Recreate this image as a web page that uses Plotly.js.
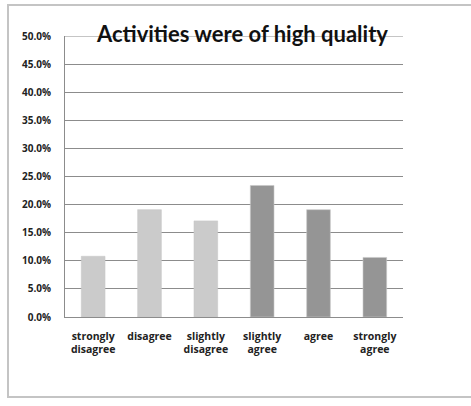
<!DOCTYPE html>
<html>
<head>
<meta charset="utf-8">
<script src="https://cdn.plot.ly/plotly-3.0.1.min.js"></script>
<style>
  html, body { margin: 0; padding: 0; background: #fff; overflow: hidden; }
  #wrap { position: relative; width: 471px; height: 406px; overflow: hidden; }
  #frame {
    position: absolute; left: 7px; top: 4px; width: 700px; height: 394px;
    border-left: 2px solid #c4c4c4; border-top: 2px solid #c4c4c4;
    border-bottom: 2px solid #c4c4c4; box-sizing: border-box;
  }
  #chart { position: absolute; left: 0; top: 0; width: 471px; height: 406px; }
</style>
</head>
<body>
<div id="wrap">
  <div id="frame"></div>
  <div id="chart"></div>
</div>
<script>
// Survey responses: "Activities were of high quality"
const categories = [
  "strongly disagree", "disagree", "slightly disagree",
  "slightly agree", "agree", "strongly agree"
];
const categoryLabels = [
  "strongly<br>disagree", "disagree", "slightly<br>disagree",
  "slightly<br>agree", "agree", "strongly<br>agree"
];
const percentValues = [10.8, 19.1, 17.1, 23.4, 19.1, 10.6];
const barColors = ["#cbcbcb", "#cbcbcb", "#cbcbcb", "#959595", "#959595", "#959595"];
const yTickValues = [0, 5, 10, 15, 20, 25, 30, 35, 40, 45, 50];
const yTickLabels = yTickValues.map(v => v.toFixed(1) + "%");

const fontFamily = "'Open Sans', sans-serif";
const bold = s => "<b>" + s + "</b>";

const trace = {
  type: "bar",
  x: categories,
  y: percentValues,
  marker: {
    color: barColors,
    line: { color: "rgba(200,200,200,0.6)", width: 1 }
  },
  hoverinfo: "skip"
};

const layout = {
  width: 471,
  height: 406,
  margin: { l: 65, r: 68, t: 36, b: 89 },
  paper_bgcolor: "rgba(0,0,0,0)",
  plot_bgcolor: "rgba(0,0,0,0)",
  showlegend: false,
  bargap: 0.58,
  font: { family: fontFamily, color: "#222", size: 10 },
  title: {
    text: bold("Activities were of high quality"),
    font: { family: "Lato, sans-serif", size: 22, color: "#111" },
    x: 0.525, xref: "paper", xanchor: "center",
    y: 0.915, yref: "container", yanchor: "middle"
  },
  xaxis: {
    type: "category",
    tickvals: categories,
    ticktext: categoryLabels.map(bold),
    showgrid: false,
    showline: true,
    linecolor: "#8c8c8c",
    linewidth: 1,
    ticks: "",
    ticklabelstandoff: 9,
    tickfont: { family: fontFamily, size: 10.5, color: "#222", weight: 700 },
    fixedrange: true
  },
  yaxis: {
    range: [0, 50],
    tickvals: yTickValues,
    ticktext: yTickLabels.map(bold),
    showgrid: true,
    gridcolor: "#8c8c8c",
    gridwidth: 1,
    showline: true,
    linecolor: "#8c8c8c",
    linewidth: 1,
    zeroline: false,
    ticks: "",
    ticklabelstandoff: 11,
    tickfont: { family: fontFamily, size: 10, color: "#222", weight: 700 },
    fixedrange: true
  },
  shapes: [{
    // top gridline at the upper end of the value axis
    type: "line",
    xref: "paper", yref: "y",
    x0: 0, x1: 1, y0: 50, y1: 50,
    line: { color: "#8c8c8c", width: 1 },
    layer: "below"
  }]
};

Plotly.newPlot("chart", [trace], layout, { staticPlot: true, displayModeBar: false });
</script>
</body>
</html>
